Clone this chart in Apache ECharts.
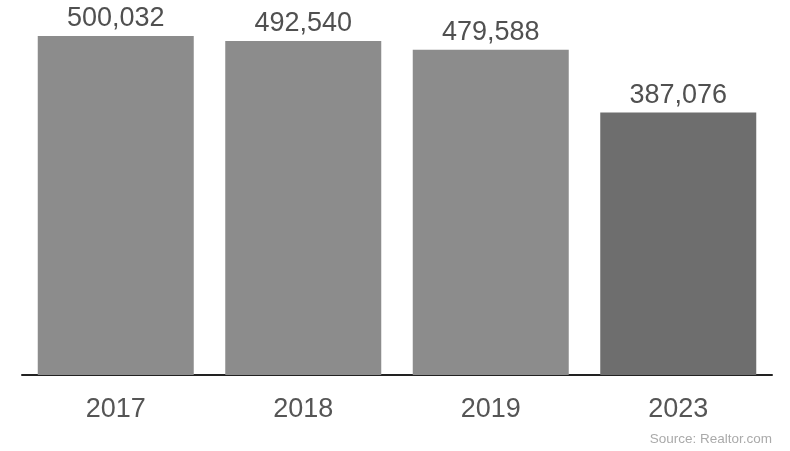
<!DOCTYPE html>
<html>
<head>
<meta charset="utf-8">
<script src="https://cdn.jsdelivr.net/npm/echarts@6/dist/echarts.min.js"></script>
<style>html,body{margin:0;padding:0;background:#fff;}#c{width:790px;height:451px;}</style>
</head>
<body>
<div id="c"></div>
<script>
const categories = ['2017', '2018', '2019', '2023'];
const values = [500032, 492540, 479588, 387076];
const barColors = ['#8c8c8c', '#8c8c8c', '#8c8c8c', '#6e6e6e'];
const sourceText = 'Source: Realtor.com';

const chart = echarts.init(document.getElementById('c'));
chart.setOption({
  animation: false,
  backgroundColor: '#ffffff',
  grid: { left: 22, right: 18, top: 36, bottom: 76, containLabel: false },
  xAxis: {
    type: 'category',
    data: categories,
    axisLine: { show: true, lineStyle: { color: '#222', width: 2 } },
    axisTick: { show: false },
    axisLabel: { color: '#555', fontSize: 27, fontFamily: 'Liberation Sans, Arial, sans-serif', margin: 21 }
  },
  yAxis: {
    type: 'value', min: 0, max: 500032,
    show: false, splitLine: { show: false }
  },
  series: [{
    type: 'bar',
    barCategoryGap: '16.8%',
    data: values.map((v, i) => ({ value: v, itemStyle: { color: barColors[i] } })),
    label: {
      show: true, position: 'top', distance: 4,
      color: '#505050', fontSize: 27, fontFamily: 'Liberation Sans, Arial, sans-serif',
      formatter: p => p.value.toLocaleString('en-US')
    }
  }],
  graphic: [{
    type: 'text', right: 18, top: 432,
    style: { text: sourceText, fill: '#aaaaaa', fontSize: 13.5, fontFamily: 'Liberation Sans, Arial, sans-serif' }
  }]
});
</script>
</body>
</html>
